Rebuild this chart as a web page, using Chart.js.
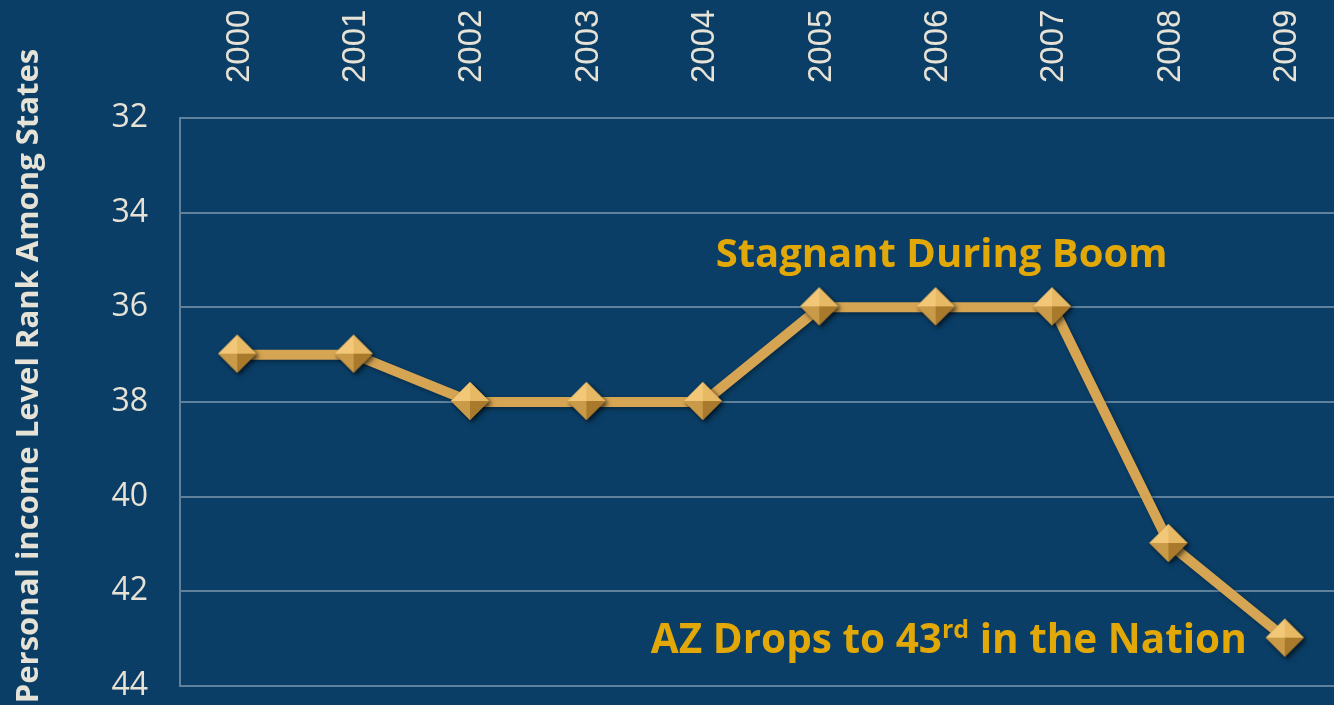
<!DOCTYPE html>
<html>
<head>
<meta charset="utf-8">
<script src="https://cdn.jsdelivr.net/npm/chart.js@4.4.1/dist/chart.umd.min.js"></script>
<style>
  html, body { margin: 0; padding: 0; background: #0a3e66; overflow: hidden; }
  #wrap { width: 1344px; height: 705px; }
</style>
</head>
<body>
<div id="wrap"><canvas id="chart" width="1344" height="705"></canvas></div>
<script>
const years = ['2000', '2001', '2002', '2003', '2004', '2005', '2006', '2007', '2008', '2009'];
const ranks = [37, 37, 38, 38, 38, 36, 36, 36, 41, 43];
const rankTicks = [32, 34, 36, 38, 40, 42, 44];
const yTitle = 'Personal income Level Rank Among States';

const textColor = '#e6e2d6';
const gold = '#e2a808';

// diamond marker with a little pyramid shading
function makeDiamond() {
  const c = document.createElement('canvas');
  c.width = 50; c.height = 50;
  const g = c.getContext('2d');
  const cx = 24, cy = 24, r = 19;
  g.shadowColor = 'rgba(0,0,0,0.45)';
  g.shadowBlur = 4;
  g.shadowOffsetX = 2;
  g.shadowOffsetY = 2;
  g.beginPath();
  g.moveTo(cx, cy - r); g.lineTo(cx + r, cy); g.lineTo(cx, cy + r); g.lineTo(cx - r, cy);
  g.closePath();
  g.fillStyle = '#c8953e';
  g.fill();
  g.shadowColor = 'transparent';
  const faces = [
    [[cx, cy - r], [cx + r, cy], '#e8b964'],
    [[cx - r, cy], [cx, cy - r], '#f2c878'],
    [[cx + r, cy], [cx, cy + r], '#a97a2c'],
    [[cx, cy + r], [cx - r, cy], '#c99a48']
  ];
  faces.forEach(f => {
    g.beginPath();
    g.moveTo(f[0][0], f[0][1]); g.lineTo(f[1][0], f[1][1]); g.lineTo(cx, cy);
    g.closePath();
    g.fillStyle = f[2];
    g.fill();
  });
  return c;
}

const notes = {
  id: 'notes',
  afterDatasetsDraw(chart) {
    const ctx = chart.ctx;
    const x = chart.scales.x, y = chart.scales.y;
    ctx.save();

    // y axis title, sits a bit above the middle like the original
    ctx.fillStyle = textColor;
    ctx.font = 'bold 31px "Open Sans"';
    ctx.textAlign = 'center';
    ctx.textBaseline = 'middle';
    ctx.translate(29, 376);
    ctx.rotate(-Math.PI / 2);
    ctx.fillText(yTitle, 0, 0);
    ctx.setTransform(1, 0, 0, 1, 0, 0);

    ctx.fillStyle = gold;
    ctx.textBaseline = 'alphabetic';
    ctx.font = 'bold 40px "Open Sans"';
    ctx.textAlign = 'center';
    ctx.fillText('Stagnant During Boom', x.getPixelForValue(6) + 5, y.getPixelForValue(35.15));

    // second note, right aligned, with a superscript
    const right = x.getPixelForValue(9) - 39;
    const base = y.getPixelForValue(43.3);
    const big = 'bold 40.5px "Open Sans"', small = 'bold 25px "Open Sans"';
    const p1 = 'AZ Drops to 43', p2 = 'rd', p3 = ' in the Nation';
    ctx.font = big;
    const w1 = ctx.measureText(p1).width, w3 = ctx.measureText(p3).width;
    ctx.font = small;
    const w2 = ctx.measureText(p2).width;
    const left = right - w1 - w2 - w3;
    ctx.textAlign = 'left';
    ctx.font = big;
    ctx.fillText(p1, left, base);
    ctx.font = small;
    ctx.fillText(p2, left + w1, base - 15);
    ctx.font = big;
    ctx.fillText(p3, left + w1 + w2, base);
    ctx.restore();
  }
};

const lineShadow = {
  id: 'lineShadow',
  beforeDatasetsDraw(chart) {
    chart.ctx.save();
    chart.ctx.shadowColor = 'rgba(0,0,0,0.35)';
    chart.ctx.shadowBlur = 4;
    chart.ctx.shadowOffsetX = 2;
    chart.ctx.shadowOffsetY = 2;
  },
  afterDatasetsDraw(chart) {
    chart.ctx.restore();
  }
};

function noPad(s) {
  s.paddingTop = 0; s.paddingBottom = 0; s.paddingLeft = 0; s.paddingRight = 0;
}

new Chart(document.getElementById('chart'), {
  type: 'line',
  data: {
    labels: years,
    datasets: [{
      data: ranks,
      borderColor: '#d6a553',
      borderWidth: 10,
      pointStyle: makeDiamond(),
      pointRadius: 19,
      pointHoverRadius: 19,
      tension: 0
    }]
  },
  options: {
    responsive: false,
    animation: false,
    devicePixelRatio: 1,
    layout: { autoPadding: false, padding: { top: 0, right: 0, bottom: 19, left: 0 } },
    plugins: { legend: { display: false }, tooltip: { enabled: false } },
    scales: {
      x: {
        position: 'top',
        offset: true,
        grid: { display: false, drawTicks: false },
        border: { display: false },
        ticks: {
          color: textColor,
          font: { family: '"Liberation Sans"', size: 33 },
          minRotation: 90,
          maxRotation: 90,
          labelOffset: 41,
          padding: 35
        },
        afterFit(s) { s.height = 118; noPad(s); }
      },
      y: {
        reverse: true,
        min: 32,
        max: 44,
        afterBuildTicks(s) { s.ticks = rankTicks.map(v => ({ value: v })); },
        grid: { color: 'rgba(200,210,220,0.45)', lineWidth: 2, drawTicks: false },
        border: { color: 'rgba(200,210,220,0.45)', width: 2 },
        ticks: {
          color: textColor,
          font: { family: '"Open Sans"', size: 32 },
          padding: 32
        },
        afterFit(s) { s.width = 180; noPad(s); }
      }
    }
  },
  plugins: [lineShadow, notes]
});
</script>
</body>
</html>
